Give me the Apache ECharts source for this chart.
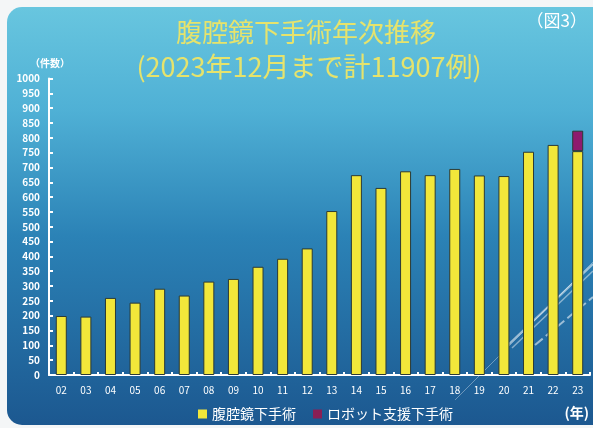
<!DOCTYPE html>
<html><head><meta charset="utf-8">
<script src="https://cdn.jsdelivr.net/npm/echarts@6/dist/echarts.min.js"></script>
<style>html,body{margin:0;padding:0;background:#f4f6f7;}#c{width:593px;height:428px;}</style>
</head><body><div id="c"></div>
<script>
const categories = ['02','03','04','05','06','07','08','09','10','11','12','13','14','15','16','17','18','19','20','21','22','23'];
const laparoscopic = [199,197,260,244,291,268,315,324,365,392,427,553,674,631,687,674,695,673,671,753,776,755];
const robotic = [null,null,null,null,null,null,null,null,null,null,null,null,null,null,null,null,null,null,null,null,null,69];
const yTicks = [0,50,100,150,200,250,300,350,400,450,500,550,600,650,700,750,800,850,900,950,1000];
const titleLine1 = '腹腔鏡下手術年次推移';
const titleLine2 = '(2023年12月まで計11907例)';
const seriesNames = ['腹腔鏡下手術','ロボット支援下手術'];

const chart = echarts.init(document.getElementById('c'));
const font = '"Noto Sans CJK JP", "Noto Sans", sans-serif';
chart.setOption({
  animation: false,
  graphic: [
    {type:'rect', z:-10, shape:{x:7,y:7,width:600,height:418,r:15},
     style:{fill:new echarts.graphic.LinearGradient(0,0,0,1,[
       {offset:0,color:'#68c6df'},{offset:0.25,color:'#4fb0d5'},{offset:0.55,color:'#2b82b6'},{offset:1,color:'#1c5890'}])}},
    {type:'line', z:-5, shape:{x1:455,y1:400,x2:593,y2:262}, style:{stroke:'rgba(255,255,255,0.35)',lineWidth:1}},
    {type:'line', z:-5, shape:{x1:508,y1:345,x2:593,y2:264}, style:{stroke:'rgba(255,255,255,0.55)',lineWidth:2}},
    {type:'line', z:-5, shape:{x1:512,y1:348,x2:593,y2:271}, style:{stroke:'rgba(255,255,255,0.45)',lineWidth:1.5}},
    {type:'line', z:-5, shape:{x1:535,y1:345,x2:593,y2:297}, style:{stroke:'rgba(255,255,255,0.55)',lineWidth:2,lineDash:[10,4]}},
    {type:'text', left:30, top:58, style:{text:'（件数）', fill:'#ffffff', font:'bold 10px '+font}},
    {type:'text', right:6, top:12, style:{text:'（図3）', fill:'#ffffff', font:'17px '+font}},
    {type:'text', right:4, top:406, style:{text:'(年)', fill:'#ffffff', font:'bold 14px '+font}}
  ],
  title: [
    {text:titleLine1, left:301, top:14, textAlign:'center', textStyle:{color:'#e6e36c', fontSize:26, fontWeight:'normal', fontFamily:font}},
    {text:titleLine2, left:304, top:48, textAlign:'center', textStyle:{color:'#e6e36c', fontSize:27, fontWeight:'normal', fontFamily:font}}
  ],
  legend: {
    left:198, top:407, padding:0, itemWidth:9, itemHeight:9, itemGap:17,
    icon:'rect',
    textStyle:{color:'#ffffff', fontSize:14, fontFamily:font},
    data:[{name:seriesNames[0], itemStyle:{color:'#f2e73a', borderWidth:0}}, {name:seriesNames[1], itemStyle:{color:'#8a1f55', borderWidth:0}}]
  },
  grid: {left:49, right:3, top:78.5, bottom:53, containLabel:false},
  xAxis: {
    type:'category', data:categories,
    axisLine:{lineStyle:{color:'#ffffff', width:2}},
    axisTick:{show:true, inside:true, length:3, lineStyle:{color:'#ffffff', width:2}},
    axisLabel:{color:'#ffffff', fontSize:10, margin:10, fontFamily:font}
  },
  yAxis: {
    type:'value', min:0, max:1000, interval:50,
    splitLine:{show:false},
    axisLine:{show:true, lineStyle:{color:'#ffffff', width:2}},
    axisTick:{show:true, inside:true, length:4, lineStyle:{color:'#ffffff', width:2}},
    axisLabel:{color:'#ffffff', fontSize:10, fontWeight:'bold', margin:9, fontFamily:font,
      customValues: yTicks, formatter: v => String(v)}
  },
  series: [
    {name:seriesNames[0], type:'bar', stack:'s', data:laparoscopic, barWidth:11,
     itemStyle:{color:'#f2e73a', borderColor:'#2b3a36', borderWidth:1}},
    {name:seriesNames[1], type:'bar', stack:'s', data:robotic, barWidth:11,
     itemStyle:{color:'#8e1a6e', borderColor:'#2b3a36', borderWidth:1}}
  ]
});
</script></body></html>
